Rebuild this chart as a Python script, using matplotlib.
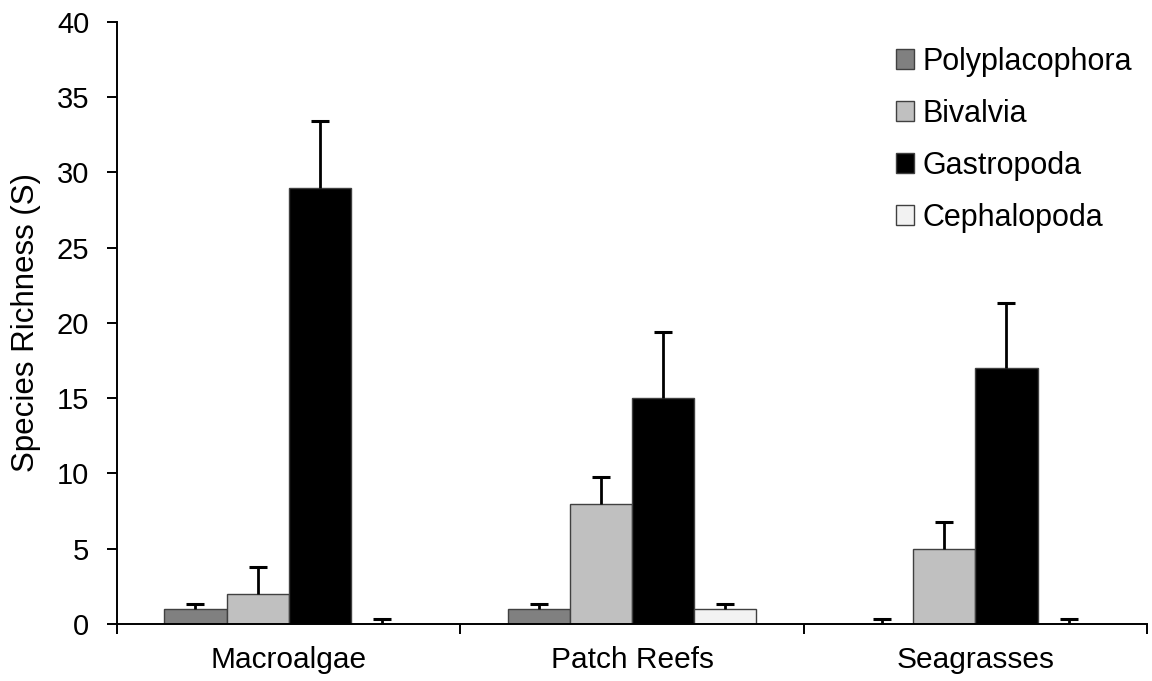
import matplotlib
matplotlib.use("Agg")
import matplotlib.pyplot as plt
import numpy as np

plt.rcParams['font.family'] = ['Liberation Sans', 'DejaVu Sans']

categories = ["Macroalgae", "Patch Reefs", "Seagrasses"]
series = ["Polyplacophora", "Bivalvia", "Gastropoda", "Cephalopoda"]
values = {
    "Polyplacophora": [1, 1, 0],
    "Bivalvia": [2, 8, 5],
    "Gastropoda": [29, 15, 17],
    "Cephalopoda": [0, 1, 0],
}
errors = {
    "Polyplacophora": [0.35, 0.35, 0.35],
    "Bivalvia": [1.8, 1.75, 1.8],
    "Gastropoda": [4.45, 4.4, 4.3],
    "Cephalopoda": [0.35, 0.35, 0.35],
}
colors = ["#808080", "#c0c0c0", "#000000", "#f2f2f2"]

fig = plt.figure(figsize=(11.52, 6.81), dpi=100)
ax = fig.add_axes([0.1016, 0.0837, 0.8941, 0.8840])

x = np.arange(len(categories))
w = 0.181
for i, s in enumerate(series):
    pos = x + (i - 1.5) * w
    vals = np.array(values[s], dtype=float)
    errs = np.array(errors[s], dtype=float)
    ax.bar(pos, vals, width=w, color=colors[i], edgecolor="#404040",
           linewidth=1.0, label=s, zorder=2)
    ax.errorbar(pos, vals, yerr=[np.zeros(3), errs], fmt="none",
                ecolor="black", elinewidth=2.0, capsize=0, zorder=3)
    ax.plot(pos, vals + errs, linestyle="none", marker="_", markersize=13,
            markeredgewidth=2.2, color="black", zorder=3)

ax.set_xlim(-0.5, 2.5)
ax.set_ylim(0, 40)
ax.set_yticks(np.arange(0, 41, 5))
ax.set_xticks(x)
ax.set_xticklabels(categories, fontsize=21.5)
ax.set_xticks(np.arange(-0.5, 3.0, 1.0), minor=True)
ax.tick_params(axis="x", which="major", length=0, pad=16)
ax.tick_params(axis="x", which="minor", length=7, width=1.4, direction="out")
ax.tick_params(axis="y", length=7, width=1.4, direction="out", labelsize=21, pad=13)
ax.set_ylabel("Species Richness (S)", fontsize=22.5, labelpad=11)

for sp in ["top", "right"]:
    ax.spines[sp].set_visible(False)
for sp in ["left", "bottom"]:
    ax.spines[sp].set_linewidth(1.4)

ax.legend(loc="upper right", bbox_to_anchor=(0.993, 0.949),
          bbox_transform=fig.transFigure, frameon=False,
          fontsize=22, handlelength=0.6, handleheight=0.6, handletextpad=0.25,
          labelspacing=0.72, borderaxespad=0.0)

fig.savefig("out.png", dpi=100)
